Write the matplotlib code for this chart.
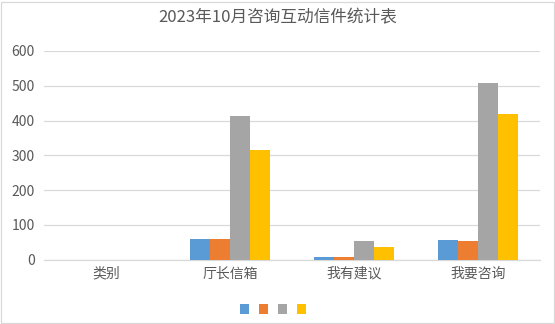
import matplotlib
matplotlib.use("Agg")
import matplotlib.pyplot as plt
from matplotlib.patches import Patch, Rectangle
import numpy as np

plt.rcParams['font.family'] = ['Noto Sans CJK SC', 'DejaVu Sans']

title = "2023年10月咨询互动信件统计表"
categories = ["类别", "厅长信箱", "我有建议", "我要咨询"]
series_names = ["", "", "", ""]
series_values = [
    [0, 59, 8, 55],
    [0, 59, 7, 52],
    [0, 413, 53, 508],
    [0, 315, 37, 419],
]
colors = ["#5B9BD5", "#ED7D31", "#A5A5A5", "#FFC000"]
yticks = [0, 100, 200, 300, 400, 500, 600]

fig = plt.figure(figsize=(5.55, 3.24), dpi=100)
ax = fig.add_axes([44/555, 1-259.5/324, 496/555, (259.5-51)/324])

x = np.arange(len(categories))
bw = 20/124
for i, vals in enumerate(series_values):
    ax.bar(x + (i - 1.5)*bw, vals, width=bw, color=colors[i], zorder=3)

ax.set_xlim(-0.5, len(categories)-0.5)
ax.set_ylim(0, 600)
ax.set_yticks(yticks)
ax.set_xticks(x)
ax.set_xticklabels(categories)
ax.tick_params(axis='both', length=0, labelsize=10, colors="#595959")
ax.tick_params(axis='y', pad=6.5)
ax.tick_params(axis='x', pad=5)
ax.grid(axis='y', color="#d9d9d9", linewidth=0.9, zorder=0)
for s in ["top", "right", "left"]:
    ax.spines[s].set_visible(False)
ax.spines["bottom"].set_color("#d9d9d9")
ax.spines["bottom"].set_linewidth(0.9)

fig.text(0.5, 1-18/324, title, ha='center', va='center', fontsize=12, color="#595959")

handles = [Patch(facecolor=c, edgecolor='none') for c in colors]
fig.legend(handles, series_names, loc='center', bbox_to_anchor=(273/555, 1-310/324),
           ncol=4, frameon=False, fontsize=10, handlelength=0.65, handleheight=0.65,
           handletextpad=0.0, columnspacing=0.72)

fig.patches.append(Rectangle((0.5/555, 1.5/324), 553/555, 321/324, transform=fig.transFigure,
                             fill=False, edgecolor="#d9d9d9", linewidth=0.9))

fig.savefig("out.png", dpi=100)
